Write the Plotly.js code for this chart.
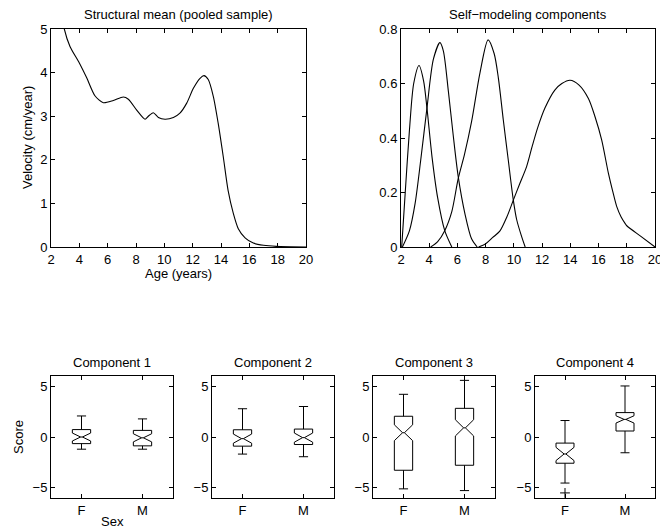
<!DOCTYPE html>
<html><head><meta charset="utf-8">
<script src="https://cdn.plot.ly/plotly-3.0.1.min.js"></script>
<style>html,body{margin:0;padding:0;background:#fff;}</style>
</head><body>
<div id="chart" style="width:660px;height:531px;"></div>
<script>
// ---- Structural mean (pooled sample) ----
const meanAge = [2.8, 2.94, 3.34, 4.0, 4.52, 5.1, 5.69, 6.4, 7.1, 7.46, 8.05, 8.64, 8.87, 9.22, 9.58, 10.05, 10.64, 11.1, 11.58, 12.05, 12.52, 12.8, 13.1, 13.46, 13.8, 14.16, 14.5, 14.87, 15.22, 15.7, 16.28, 17.0, 17.9, 20];
const meanVelocity = [5.3, 5.0, 4.6, 4.22, 3.88, 3.47, 3.31, 3.36, 3.44, 3.39, 3.14, 2.93, 3.0, 3.08, 2.97, 2.93, 2.97, 3.07, 3.3, 3.64, 3.87, 3.93, 3.84, 3.45, 2.84, 2.07, 1.3, 0.77, 0.42, 0.21, 0.09, 0.04, 0.015, 0];

// ---- Self-modeling components ----
const comp1Age = [2.05, 2.3, 2.6, 2.9, 3.28, 3.6, 3.84, 4.2, 4.6, 5.1, 5.6];
const comp1Val = [0, 0.2, 0.43, 0.6, 0.666, 0.61, 0.51, 0.33, 0.18, 0.06, 0];
const comp2Age = [2.1, 2.6, 3.0, 3.4, 3.84, 4.3, 4.76, 5.0, 5.36, 5.7, 6.05, 6.54, 7.0, 7.4];
const comp2Val = [0, 0.06, 0.16, 0.32, 0.51, 0.69, 0.75, 0.72, 0.57, 0.41, 0.26, 0.12, 0.03, 0];
const comp3Age = [4.1, 4.6, 5.1, 5.6, 6.05, 6.5, 7.0, 7.6, 8.17, 8.6, 8.9, 9.25, 9.6, 9.96, 10.2, 10.55, 10.8];
const comp3Val = [0, 0.02, 0.06, 0.13, 0.25, 0.34, 0.46, 0.64, 0.76, 0.71, 0.62, 0.466, 0.32, 0.172, 0.1, 0.038, 0];
const comp4Age = [7.5, 8.0, 8.5, 9.0, 9.5, 9.96, 10.4, 10.9, 11.3, 11.7, 12.2, 12.9, 13.4, 13.98, 14.6, 15.28, 15.75, 16.22, 16.7, 17.0, 17.29, 17.6, 17.9, 18.0, 19.0, 20.0];
const comp4Val = [0, 0.012, 0.035, 0.058, 0.11, 0.172, 0.23, 0.295, 0.37, 0.44, 0.51, 0.576, 0.60, 0.612, 0.595, 0.545, 0.478, 0.393, 0.27, 0.205, 0.148, 0.11, 0.085, 0.078, 0.039, 0];

// ---- Component score box plots (F, M) ----
const componentTitles = ['Component 1', 'Component 2', 'Component 3', 'Component 4'];
const sexLabels = ['F', 'M'];
const upperWhisker = [[2.07, 1.78], [2.78, 3.0], [4.2, 5.57], [1.62, 5.02]];
const q3Values = [[0.73, 0.65], [0.71, 0.78], [2.04, 2.82], [-0.6, 2.4]];
const medianValues = [[0.0, -0.08], [-0.16, -0.06], [0.42, 0.9], [-1.67, 1.73]];
const q1Values = [[-0.65, -0.87], [-0.9, -0.74], [-3.27, -2.78], [-2.58, 0.59]];
const lowerWhisker = [[-1.2, -1.2], [-1.68, -1.94], [-5.1, -5.27], [-4.53, -1.55]];
const notchSpan = [[0.39, 0.4], [0.45, 0.45], [0.78, 0.8], [0.65, 0.36]];
const outlierComponent = [4];
const outlierSex = ['F'];
const outlierScore = [-5.5];

const FONT = 'Liberation Sans, Arial, Helvetica, sans-serif';
const W = 660, H = 531;
const px2x = p => p / W;
const px2y = p => (H - p) / H;

const topDomY = [px2y(247), px2y(29)];
const botDomY = [px2y(498), px2y(376)];
const botDomX = [[51, 173], [212, 334], [373, 495], [535, 655]];

const lineStyle = {color: '#000', width: 1.1};
const traces = [];
traces.push({x: meanAge, y: meanVelocity, type: 'scatter', mode: 'lines', line: Object.assign({shape: 'spline', smoothing: 0.7}, lineStyle), xaxis: 'x', yaxis: 'y', showlegend: false, hoverinfo: 'skip'});
[[comp1Age, comp1Val], [comp2Age, comp2Val], [comp3Age, comp3Val], [comp4Age, comp4Val]].forEach(([a, v]) => {
  traces.push({x: a, y: v, type: 'scatter', mode: 'lines', line: Object.assign({shape: 'spline', smoothing: 0.8}, lineStyle), xaxis: 'x2', yaxis: 'y2', showlegend: false, hoverinfo: 'skip'});
});
for (let i = 0; i < 4; i++) {
  const ax = i + 3;
  traces.push({
    type: 'box', x: sexLabels,
    q1: q1Values[i], median: medianValues[i], q3: q3Values[i],
    lowerfence: lowerWhisker[i], upperfence: upperWhisker[i],
    notched: true, notchspan: notchSpan[i], notchwidth: 0.45,
    width: 0.3, whiskerwidth: 0.5,
    line: {color: '#000', width: 1}, fillcolor: 'rgba(255,255,255,0)',
    boxpoints: false, showlegend: false, hoverinfo: 'skip',
    xaxis: 'x' + ax, yaxis: 'y' + ax
  });
}
outlierComponent.forEach((c, k) => {
  traces.push({x: [outlierSex[k]], y: [outlierScore[k]], type: 'scatter', mode: 'markers',
    marker: {symbol: 'cross-thin', size: 7, line: {color: '#000', width: 1}, color: '#000'},
    xaxis: 'x' + (c + 2), yaxis: 'y' + (c + 2), showlegend: false, hoverinfo: 'skip', cliponaxis: false});
});

function axBase(extra) {
  return Object.assign({
    showline: true, linecolor: '#000', linewidth: 1, mirror: 'ticks',
    ticks: 'inside', ticklen: 4, tickcolor: '#000', tickwidth: 1,
    showgrid: false, zeroline: false, fixedrange: true,
    tickfont: {family: FONT, size: 13, color: '#000'}
  }, extra);
}
const titleFont = {family: FONT, size: 13, color: '#000'};
function note(text, x, y, extra) {
  return Object.assign({text: text, x: px2x(x), y: px2y(y), xref: 'paper', yref: 'paper', showarrow: false,
    xanchor: 'center', yanchor: 'middle', font: titleFont}, extra || {});
}

const layout = {
  width: W, height: H, margin: {l: 0, r: 0, t: 0, b: 0},
  paper_bgcolor: '#fff', plot_bgcolor: '#fff', showlegend: false,
  font: {family: FONT, size: 13, color: '#000'},
  xaxis: axBase({domain: [px2x(51), px2x(306)], range: [2, 20], dtick: 2, tick0: 2, anchor: 'y'}),
  yaxis: axBase({domain: topDomY, range: [0, 5], dtick: 1, anchor: 'x'}),
  xaxis2: axBase({domain: [px2x(401), px2x(655)], range: [2, 20], dtick: 2, tick0: 2, anchor: 'y2', ticklabeloverflow: 'allow'}),
  yaxis2: axBase({domain: topDomY, range: [0, 0.8], dtick: 0.2, anchor: 'x2'}),
  annotations: [
    note('Structural mean (pooled sample)', 178.5, 14),
    note('Self\u2212modeling components', 528, 14),
    note('Age (years)', 178.5, 273),
    note('Velocity (cm/year)', 27, 138, {textangle: -90}),
    note('Score', 18, 437, {textangle: -90}),
    note('Sex', 112, 521)
  ]
};
for (let i = 0; i < 4; i++) {
  const ax = i + 3;
  const d = botDomX[i];
  layout['xaxis' + ax] = axBase({domain: [px2x(d[0]), px2x(d[1])], type: 'category', range: [-0.5, 1.5], anchor: 'y' + ax});
  layout['yaxis' + ax] = axBase({domain: botDomY, range: [-6, 6], tickvals: [-5, 0, 5], anchor: 'x' + ax});
  layout.annotations.push(note(componentTitles[i], (d[0] + d[1]) / 2, 362));
}

Plotly.newPlot('chart', traces, layout, {staticPlot: true, displayModeBar: false});
</script>
</body></html>
